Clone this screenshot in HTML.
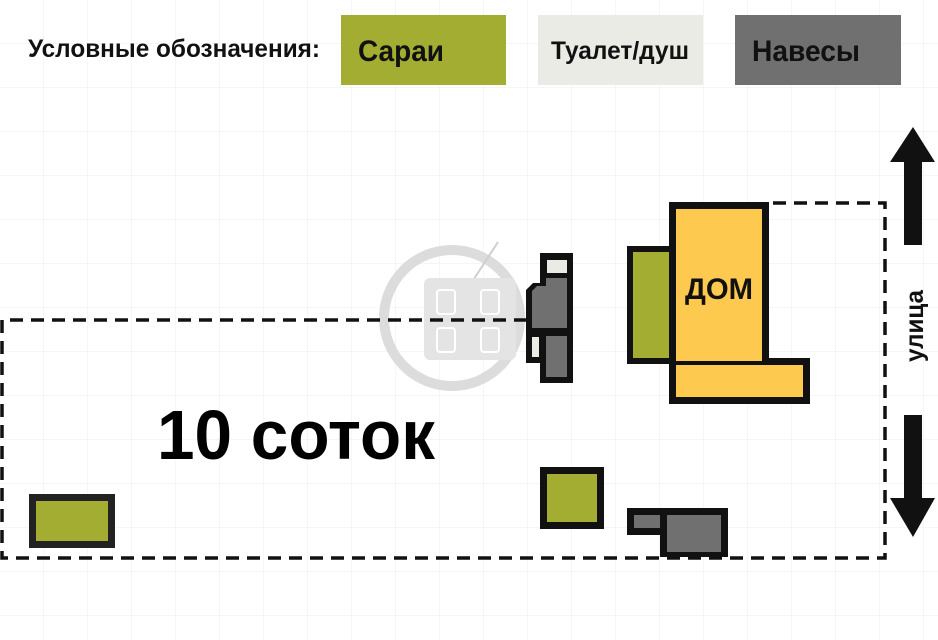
<!DOCTYPE html>
<html><head><meta charset="utf-8"><style>
body{margin:0;width:938px;height:640px;overflow:hidden;background:#fff;font-family:"Liberation Sans",sans-serif}
</style></head><body>
<svg width="938" height="640" xmlns="http://www.w3.org/2000/svg" style="position:absolute;left:0;top:0">
<defs><pattern id="g" width="44" height="44" patternUnits="userSpaceOnUse"><path d="M44 0V44M0 44H44" stroke="#ececec" stroke-width="1" fill="none"/></pattern></defs>
<rect width="938" height="640" fill="url(#g)"/>
<circle cx="452" cy="318" r="68" fill="none" stroke="#dcdcdc" stroke-width="10"/>
<line x1="470" y1="285" x2="498" y2="242" stroke="#cfcfcf" stroke-width="2"/>
<rect x="424" y="278" width="92" height="82" rx="6" fill="#e4e4e4"/>
<g fill="none" stroke="#fff" stroke-width="2">
<rect x="437" y="290" width="18" height="24" rx="3"/><rect x="481" y="290" width="18" height="24" rx="3"/>
<rect x="437" y="328" width="18" height="24" rx="3"/><rect x="481" y="328" width="18" height="24" rx="3"/>
</g>
<text x="28" y="57" font-size="25" font-weight="bold" fill="#111" textLength="292" lengthAdjust="spacingAndGlyphs">Условные обозначения:</text>
<rect x="341" y="15" width="165" height="70" fill="#a3ad32"/>
<text x="358" y="61" font-size="30" font-weight="bold" fill="#111" textLength="86" lengthAdjust="spacingAndGlyphs">Сараи</text>
<rect x="538" y="15" width="165" height="70" fill="#ebebe6"/>
<text x="551" y="59" font-size="25" font-weight="bold" fill="#111" textLength="138" lengthAdjust="spacingAndGlyphs">Туалет/душ</text>
<rect x="735" y="15" width="166" height="70" fill="#707070"/>
<text x="752" y="61" font-size="30" font-weight="bold" fill="#111" textLength="108" lengthAdjust="spacingAndGlyphs">Навесы</text>
<path d="M527 320H2V558H885V203H769" fill="none" stroke="#111" stroke-width="3.5" stroke-dasharray="13,8"/>
<path d="M540 253H573V383H540V363H526V290L533 283H540Z" fill="#111"/>
<rect x="547" y="260" width="20" height="13" fill="#ebebe6"/>
<path d="M546 278H567V328H546Z" fill="#707070"/>
<path d="M532 291L537 286H546V328H532Z" fill="#707070"/>
<rect x="546" y="336" width="21" height="41" fill="#707070"/>
<rect x="532" y="337" width="7" height="20" fill="#ebebe6"/>
<rect x="627" y="246" width="44" height="118" fill="#111"/>
<rect x="633" y="252" width="37" height="106" fill="#a3ad32"/>
<rect x="669" y="202" width="100" height="160" fill="#111"/>
<rect x="669" y="358" width="141" height="46" fill="#111"/>
<rect x="676" y="209" width="86" height="152" fill="#fdc94f"/>
<rect x="676" y="365" width="127" height="32" fill="#fdc94f"/>
<text x="685" y="299" font-size="30" font-weight="bold" fill="#111" textLength="68" lengthAdjust="spacingAndGlyphs">ДОМ</text>
<rect x="540" y="467" width="64" height="62" fill="#111"/><rect x="547" y="474" width="50" height="48" fill="#a3ad32"/>
<rect x="29" y="494" width="86" height="54" fill="#222"/><rect x="36" y="501" width="72" height="40" fill="#a3ad32"/>
<path d="M627 508H728V557H660V535H627Z" fill="#111"/>
<rect x="634" y="515" width="26" height="13" fill="#707070"/>
<rect x="667" y="515" width="54" height="37" fill="#707070"/>
<path d="M913 127L935 162H922V245H904V162H890Z" fill="#111"/>
<path d="M913 537L935 498H922V415H904V498H890Z" fill="#111"/>
<text transform="translate(923,326) rotate(-90)" font-size="25" font-weight="bold" fill="#111" text-anchor="middle" textLength="72" lengthAdjust="spacingAndGlyphs">улица</text>
<text x="157" y="459" font-size="70" font-weight="bold" fill="#000" textLength="278" lengthAdjust="spacingAndGlyphs">10 соток</text>
</svg>
</body></html>
